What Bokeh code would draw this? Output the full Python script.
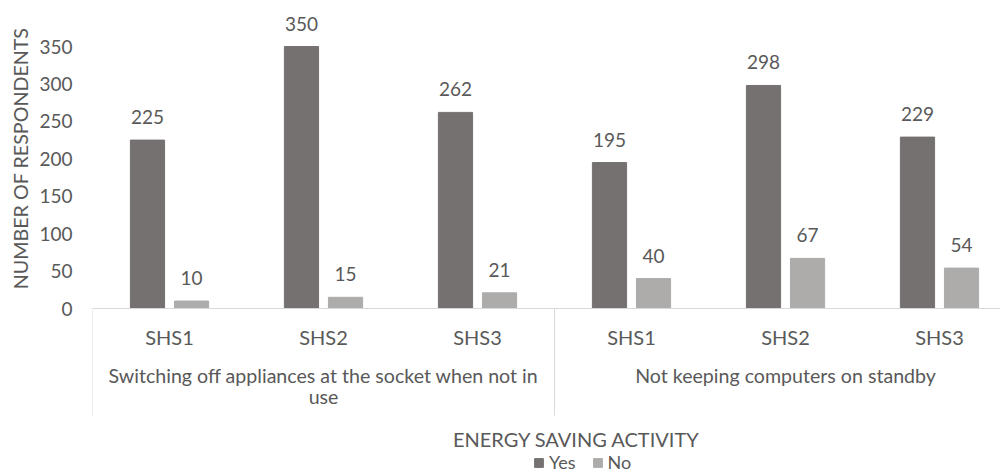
from bokeh.plotting import figure
from bokeh.models import ColumnDataSource, Range1d, FixedTicker, Title, Legend, LegendItem, Span
from bokeh.transform import dodge
from bokeh.core.properties import value
from bokeh.embed import file_html
from bokeh.resources import INLINE

# Survey data: energy-saving activity x school, counts of Yes / No answers
activities = ["Switching off appliances at the socket when not in\nuse",
              "Not keeping computers on standby"]
schools = ["SHS1", "SHS2", "SHS3"]
yes_counts = [225, 350, 262, 195, 298, 229]
no_counts = [10, 15, 21, 40, 67, 54]
y_ticks = [0, 50, 100, 150, 200, 250, 300, 350]
legend_labels = ["Yes", "No"]
x_title = "ENERGY SAVING ACTIVITY"
y_title = "NUMBER OF RESPONDENTS"

FONT = "Lato"
TEXT = "#595959"
YES_COLOR = "#767171"
NO_COLOR = "#AEABAB"
RULE = "#D9D9D9"
PX = 0.7486          # pixels per respondent on the vertical scale

n_cat = len(activities) * len(schools)
xs = [i + 0.5 for i in range(n_cat)]
src = ColumnDataSource(dict(
    x=xs,
    yes=yes_counts,
    no=no_counts,
    yes_txt=[str(v) for v in yes_counts],
    no_txt=[str(v) for v in no_counts],
    school=schools * len(activities),
))

p = figure(width=1000, height=473,
           x_range=Range1d(0, 5.896), y_range=Range1d(-220.4, 411.5),
           x_axis_location=None, toolbar_location=None, output_backend="svg",
           min_border_left=92, min_border_right=0, min_border_top=0, min_border_bottom=0)
p.outline_line_color = None
p.grid.visible = False

yax = p.yaxis[0]
yax.ticker = FixedTicker(ticks=y_ticks)
yax.axis_line_color = None
yax.major_tick_line_color = None
yax.minor_tick_line_color = None
yax.major_tick_out = 0
yax.major_label_standoff = 20
yax.major_label_text_font = FONT
yax.major_label_text_font_size = "19px"
yax.major_label_text_color = TEXT

# vertical axis title, anchored near the top of the value span
p.add_layout(Title(text=y_title, align="right", offset=27, standoff=9,
                   text_font=FONT, text_font_size="19.7px", text_font_style="normal",
                   text_color=TEXT), "left")

off = 0.143
bw = 0.222
r_yes = p.vbar(x=dodge("x", -off, range=p.x_range), top="yes", bottom=0, width=bw,
               source=src, fill_color=YES_COLOR, line_color=YES_COLOR)
r_no = p.vbar(x=dodge("x", off, range=p.x_range), top="no", bottom=0, width=bw,
              source=src, fill_color=NO_COLOR, line_color=NO_COLOR)

# value labels above each bar
lbl_style = dict(text_align="center", text_baseline="middle", y_offset=-23,
                 text_font=value(FONT), text_font_size="19px", text_color=TEXT, source=src)
p.text(x=dodge("x", -off, range=p.x_range), y="yes", text="yes_txt", **lbl_style)
p.text(x=dodge("x", off, range=p.x_range), y="no", text="no_txt", **lbl_style)

# category axis drawn in data space: baseline, group separators, labels
p.add_layout(Span(location=0, dimension="width", line_color=RULE, line_width=1))
p.segment(x0=[0, 3, 6], y0=[0, 0, 0], x1=[0, 3, 6], y1=[-143, -143, -143],
          line_color=RULE, line_width=1)

p.text(x="x", y=-37.4, text="school", source=src, text_align="center",
       text_baseline="middle", text_font=value(FONT), text_font_size="20px", text_color=TEXT)

# group labels, one text row per line with 21 px leading
gx, gy, gt = [], [], []
for i, label in enumerate(activities):
    for k, line in enumerate(label.split("\n")):
        gx.append(1.5 + 3 * i)
        gy.append(-89.5 - k * 21 / PX)
        gt.append(line)
p.text(x=gx, y=gy, text=gt, text_align="center", text_baseline="middle",
       text_font=value(FONT), text_font_size="19.6px", text_color=TEXT)

p.text(x=[3.143], y=[-173.7], text=[x_title], text_align="center", text_baseline="middle",
       text_font=value(FONT), text_font_size="20px", text_color=TEXT)

legend = Legend(items=[LegendItem(label=legend_labels[0], renderers=[r_yes]),
                       LegendItem(label=legend_labels[1], renderers=[r_no])],
                orientation="horizontal", location=(441, 0),
                glyph_width=11, glyph_height=11, label_standoff=5, spacing=16,
                padding=0, margin=0, border_line_color=None, background_fill_alpha=0,
                label_text_font=FONT, label_text_font_size="18px", label_text_color=TEXT)
p.add_layout(legend)

open("out.html", "w").write(file_html(p, INLINE))
